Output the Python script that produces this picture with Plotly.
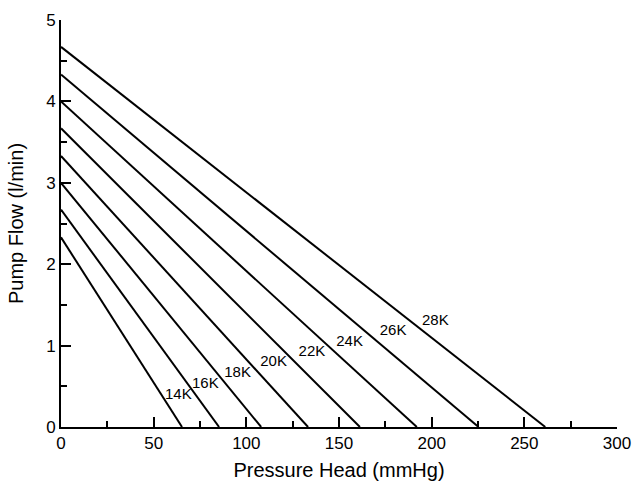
import plotly.graph_objects as go

speeds = ["14K", "16K", "18K", "20K", "22K", "24K", "26K", "28K"]
flow_at_zero = [2.33, 2.67, 3.00, 3.33, 3.67, 4.00, 4.33, 4.67]
head_at_zero_flow = [65.3, 85.3, 108.0, 133.3, 161.3, 192.0, 225.3, 261.3]
label_x = [63.3, 77.9, 95.3, 114.7, 135.4, 155.7, 179.2, 202.0]
label_y = [0.39, 0.53, 0.66, 0.79, 0.92, 1.04, 1.18, 1.30]

FONT = "Liberation Sans, Arial, sans-serif"

fig = go.Figure()
for s, y0, x1 in zip(speeds, flow_at_zero, head_at_zero_flow):
    fig.add_trace(go.Scatter(x=[0, x1], y=[y0, 0], mode="lines",
                             line=dict(color="black", width=2),
                             showlegend=False, hoverinfo="skip", cliponaxis=False))

fig.add_trace(go.Scatter(x=label_x, y=label_y, mode="text", text=speeds,
                         textfont=dict(family=FONT, size=15, color="black"),
                         showlegend=False, hoverinfo="skip", cliponaxis=False))

axis_common = dict(showgrid=False, zeroline=False, showline=True, linecolor="black",
                   linewidth=2, ticks="inside", ticklen=10, tickwidth=2, tickcolor="black",
                   tickfont=dict(family=FONT, size=17, color="black"), mirror=False,
                   automargin=False)

fig.update_layout(
    width=634, height=482,
    margin=dict(l=61, r=17, t=20, b=55),
    plot_bgcolor="white", paper_bgcolor="white",
    xaxis=dict(range=[0, 300], dtick=50, tick0=0,
               minor=dict(dtick=25, ticks="inside", ticklen=6, tickwidth=2, tickcolor="black"),
               title=dict(text="Pressure Head (mmHg)", font=dict(family=FONT, size=20, color="black"), standoff=11),
               **axis_common),
    yaxis=dict(range=[0, 5], dtick=1, tick0=0,
               minor=dict(dtick=0.5, ticks="inside", ticklen=6, tickwidth=2, tickcolor="black"),
               title=dict(text="Pump Flow (l/min)", font=dict(family=FONT, size=20, color="black"), standoff=17),
               **axis_common),
)

fig.write_html("out.html",
               config={"displayModeBar": False},
               post_script="document.body.style.margin='0';document.body.style.overflow='hidden';")
